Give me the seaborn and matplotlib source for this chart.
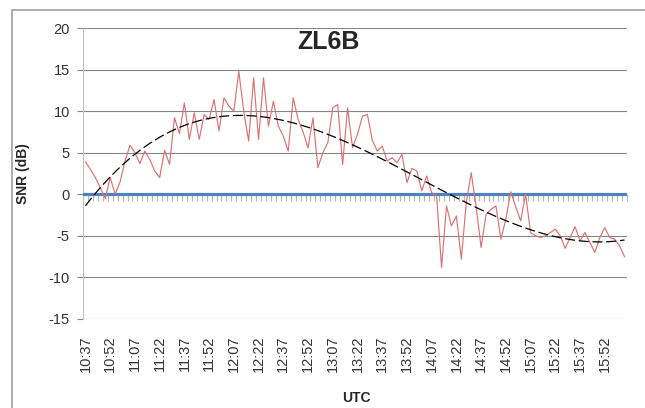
import numpy as np
import pandas as pd
import seaborn as sns
import matplotlib.pyplot as plt
from matplotlib.patches import Rectangle

# SNR readings every 3 minutes from 10:37 UTC
snr = [3.9, 3.0, 2.0, 0.8, -0.5, 2.0, 0.0, 1.5, 4.0, 5.9,
       5.0, 3.7, 5.2, 4.2, 2.8, 2.0, 5.3, 3.6, 9.2, 7.3,
       11.0, 6.6, 9.8, 6.6, 9.6, 9.0, 11.4, 7.6, 11.6, 10.6,
       10.0, 14.8, 10.0, 6.4, 14.0, 6.6, 14.0, 8.2, 11.2, 8.2,
       7.0, 5.2, 11.6, 9.0, 7.5, 5.6, 9.2, 3.2, 5.0, 6.2,
       10.4, 10.8, 3.6, 10.4, 5.6, 7.2, 9.4, 9.6, 6.5, 5.2,
       5.8, 4.0, 4.4, 3.8, 4.8, 1.4, 3.1, 2.8, 0.4, 2.2,
       0.2, -0.2, -8.8, -1.4, -3.8, -2.6, -7.8, -1.0, 2.6, -1.5,
       -6.4, -2.4, -1.8, -1.4, -5.4, -3.0, 0.3, -1.5, -3.2, 0.0,
       -4.6, -5.0, -5.2, -5.0, -4.6, -4.2, -5.0, -6.5, -5.2, -3.9,
       -5.6, -4.6, -5.8, -7.0, -5.2, -4.0, -5.2, -5.4, -6.2, -7.5]

tick_labels = ["10:37", "10:52", "11:07", "11:22", "11:37", "11:52",
               "12:07", "12:22", "12:37", "12:52", "13:07", "13:22",
               "13:37", "13:52", "14:07", "14:22", "14:37", "14:52",
               "15:07", "15:22", "15:37", "15:52"]

df = pd.DataFrame({"idx": np.arange(len(snr)), "snr": snr})

sns.set_style("white")
plt.rcParams['font.family'] = ['Liberation Sans', 'DejaVu Sans']
plt.rcParams['axes.unicode_minus'] = False

fig = plt.figure(figsize=(6.45, 4.08), dpi=100)
ax = fig.add_axes([83 / 645, 1 - 319 / 408, 544 / 645, 291 / 408])

# chart border
fig.patches.append(Rectangle((12 / 645, -0.05), 1.1, 1.05 - 10 / 408,
                             transform=fig.transFigure, fill=False,
                             edgecolor='#a6a6a6', lw=1.3))

# zero line (blue series)
ax.axhline(0, color='#4F81BD', lw=2.3, zorder=3)

# SNR series
sns.lineplot(data=df, x="idx", y="snr", color='#d67474', lw=0.85, ax=ax, zorder=4)

# polynomial trendline
sns.regplot(data=df, x="idx", y="snr", order=3, ci=None, scatter=False, ax=ax,
            line_kws={'color': 'black', 'lw': 0.9, 'linestyle': (0, (8, 3)), 'zorder': 5})

ax.set_xlim(-0.5, len(snr) - 0.5)
ax.set_ylim(-15, 20)
ax.set_yticks(range(-15, 21, 5))
ax.set_xticks(np.arange(0, len(snr), 5))
ax.set_xticklabels(tick_labels, rotation=90)
ax.set_xlabel("")
ax.set_ylabel("")

ax.yaxis.grid(True, color='#868686', lw=0.8)
ax.set_axisbelow(True)
for s in ['top', 'right', 'bottom']:
    ax.spines[s].set_visible(False)
ax.spines['left'].set_color('#c0c0c0')

ax.tick_params(axis='y', length=4.5, color='#868686', labelcolor='#333333',
               labelsize=10.5, pad=5, left=True)
ax.tick_params(axis='x', length=0, labelcolor='#333333', labelsize=10.5, pad=12)

# category tick marks sitting on the zero line
sec = ax.secondary_xaxis(15 / 35)
sec.set_xticks(np.arange(-0.5, len(snr), 1))
sec.tick_params(length=5, width=0.8, color='#b5b5b5', labelbottom=False, direction='out')
sec.spines['bottom'].set_visible(False)

fig.text(328 / 645, 1 - 42 / 408, "ZL6B", ha='center', va='center',
         fontsize=18, fontweight='bold')
fig.text(23 / 645, 1 - 174 / 408, "SNR (dB)", ha='center', va='center',
         rotation=90, fontsize=10, fontweight='bold')
fig.text(356 / 645, 1 - 398 / 408, "UTC", ha='center', va='center',
         fontsize=10, fontweight='bold')

fig.savefig("out.png", dpi=100)
